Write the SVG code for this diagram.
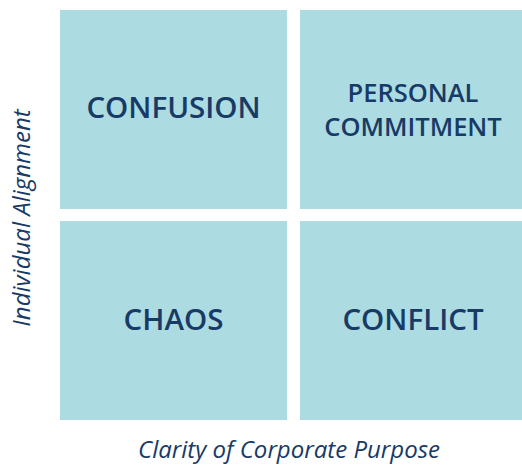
<svg xmlns="http://www.w3.org/2000/svg" width="522" height="465" viewBox="0 0 522 465">
<style>
.box{fill:#acdbe1}
.lbl{font-family:"Open Sans","Liberation Sans",sans-serif;font-weight:600;fill:#173a66;text-anchor:middle}
.ax{font-family:"Open Sans","Liberation Sans",sans-serif;font-style:italic;font-weight:500;fill:#173a66;text-anchor:middle;font-size:24px}
</style>
<rect width="522" height="465" fill="#ffffff"/>
<g id="confusion"><rect class="box" x="60" y="10" width="227" height="199"/><text class="lbl" x="173.5" y="118" font-size="29.5">CONFUSION</text></g>
<g id="personal-commitment"><rect class="box" x="300" y="10" width="222" height="199"/><text class="lbl" x="413" y="101.5" font-size="25.5">PERSONAL</text><text class="lbl" x="413" y="135.5" font-size="25.5">COMMITMENT</text></g>
<g id="chaos"><rect class="box" x="60" y="221" width="227" height="199"/><text class="lbl" x="173.5" y="330" font-size="29.5">CHAOS</text></g>
<g id="conflict"><rect class="box" x="300" y="221" width="222" height="199"/><text class="lbl" x="413" y="330" font-size="29.5">CONFLICT</text></g>
<g id="connectors"/>
<text class="ax" x="289" y="458">Clarity of Corporate Purpose</text>
<text class="ax" transform="translate(30,218) rotate(-90)" font-size="25">Individual Alignment</text>
</svg>
